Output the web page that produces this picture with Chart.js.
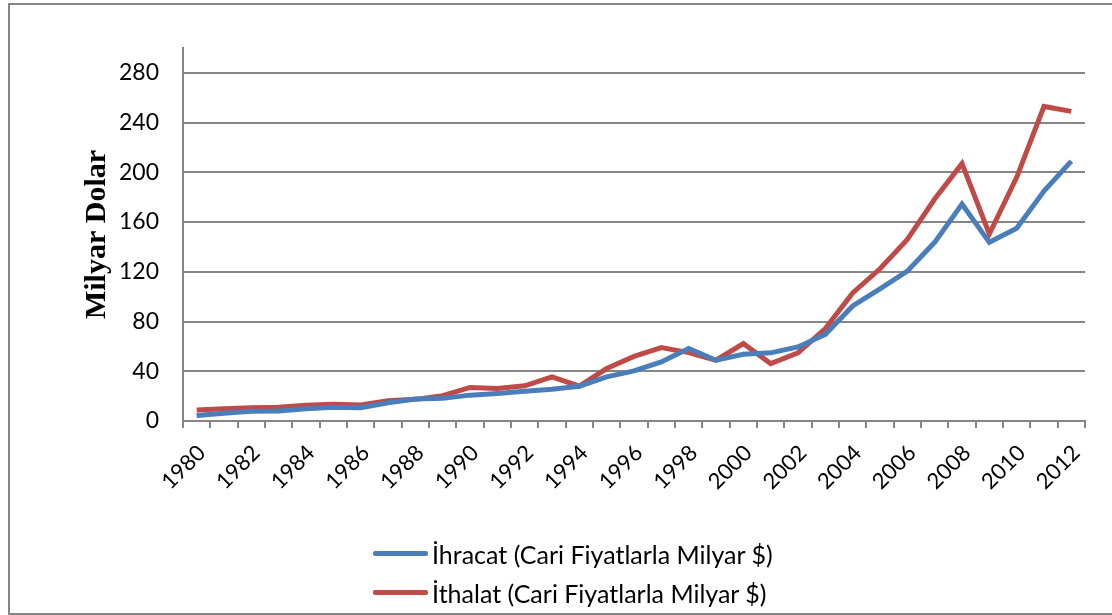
<!DOCTYPE html>
<html>
<head>
<meta charset="utf-8">
<script src="https://cdn.jsdelivr.net/npm/chart.js@4"></script>
<style>
	body { margin: 0; background: #fff; }
	#wrap { position: relative; width: 1112px; height: 615px; overflow: hidden; }
	#frame { position: absolute; left: 8px; top: 3px; width: 1120px; height: 608px; border: 2px solid #868686; pointer-events: none; }
	#legend { position: absolute; left: 373px; top: 534px; font-family: Lato, 'Open Sans', sans-serif; font-size: 25px; color: #000; }
	.item { display: flex; align-items: center; height: 39px; }
	.swatch { width: 55px; height: 5px; border-radius: 2px; margin-right: 4px; }
</style>
</head>
<body>
<div id="wrap">
	<canvas id="lineChart" width="1112" height="615"></canvas>
	<div id="frame"></div>
	<div id="legend"></div>
</div>
<script>
const years = [
	'1980', '1981', '1982', '1983', '1984', '1985', '1986', '1987', '1988', '1989',
	'1990', '1991', '1992', '1993', '1994', '1995', '1996', '1997', '1998', '1999',
	'2000', '2001', '2002', '2003', '2004', '2005', '2006', '2007', '2008', '2009',
	'2010', '2011', '2012'
];
const ihracat = [
	4.5, 6.2, 7.8, 8, 9.9, 11, 10.7, 14.7, 17.6, 18.2,
	20.8, 22.2, 24, 25.6, 28, 35.5, 40.3, 47.5, 58.3, 48.9,
	53.7, 54.8, 59.6, 69.7, 92.5, 106.3, 120.5, 143.7, 174.5, 143.7,
	155, 185, 209
];
const ithalat = [
	8.8, 9.9, 10.7, 11, 12.6, 13.4, 12.8, 16.3, 17.4, 20.3,
	27, 26.2, 28.3, 35.5, 28, 42.2, 52, 59, 55, 48.9,
	62.3, 46.2, 54.8, 74.3, 103, 122.4, 146, 178.5, 207, 150.4,
	196, 253, 249
];
const yTicks = [0, 40, 80, 120, 160, 200, 240, 280];
const seriesNames = ['İhracat (Cari Fiyatlarla Milyar $)', 'İthalat (Cari Fiyatlarla Milyar $)'];

const gray = '#868686';
const ctx = document.getElementById('lineChart').getContext('2d');

// eslint-disable-next-line no-undef
const chart = new Chart(ctx, {
	type: 'line',
	data: {
		labels: years,
		datasets: [{
			label: seriesNames[0],
			data: ihracat,
			borderColor: '#4A7EBB',
			backgroundColor: '#4A7EBB',
			borderWidth: 5,
			pointRadius: 0,
			tension: 0
		}, {
			label: seriesNames[1],
			data: ithalat,
			borderColor: '#BE4B48',
			backgroundColor: '#BE4B48',
			borderWidth: 5,
			pointRadius: 0,
			tension: 0
		}]
	},
	options: {
		responsive: false,
		animation: false,
		layout: { padding: { left: 79, right: 27, top: 48, bottom: 0 } },
		scales: {
			x: {
				offset: true,
				grid: { offset: true, drawOnChartArea: false, drawTicks: true, tickLength: 7, color: gray, lineWidth: 2 },
				border: { color: gray, width: 2 },
				ticks: {
					autoSkip: false,
					maxRotation: 45,
					minRotation: 45,
					padding: 12,
					labelOffset: 5,
					color: '#000',
					font: { family: 'Lato, sans-serif', size: 22 },
					callback: (val, i) => (i % 2 === 0 ? years[i] : '')
				},
				afterFit: (scale) => { scale.height = 194; }
			},
			y: {
				min: 0,
				max: 300,
				afterBuildTicks: (scale) => {
					scale.ticks = yTicks.map(v => ({ value: v }));
				},
				grid: { color: gray, lineWidth: 2, drawTicks: false },
				border: { color: gray, width: 2 },
				ticks: {
					padding: 24,
					color: '#000',
					font: { family: 'Lato, sans-serif', size: 23 }
				},
				title: {
					display: true,
					text: 'Milyar Dolar',
					color: '#000',
					padding: 0,
					font: { family: '"Liberation Serif", serif', size: 30, weight: 'bold' }
				},
				afterFit: (scale) => { scale.width = 104; }
			}
		},
		plugins: {
			legend: { display: false },
			tooltip: { enabled: false }
		}
	}
});

// legend below the plot, two rows like the original
const legendBox = document.getElementById('legend');
chart.data.datasets.forEach(ds => {
	const row = document.createElement('div');
	row.className = 'item';
	const sw = document.createElement('span');
	sw.className = 'swatch';
	sw.style.background = ds.borderColor;
	const txt = document.createElement('span');
	txt.textContent = ds.label;
	row.appendChild(sw);
	row.appendChild(txt);
	legendBox.appendChild(row);
});
</script>
</body>
</html>
